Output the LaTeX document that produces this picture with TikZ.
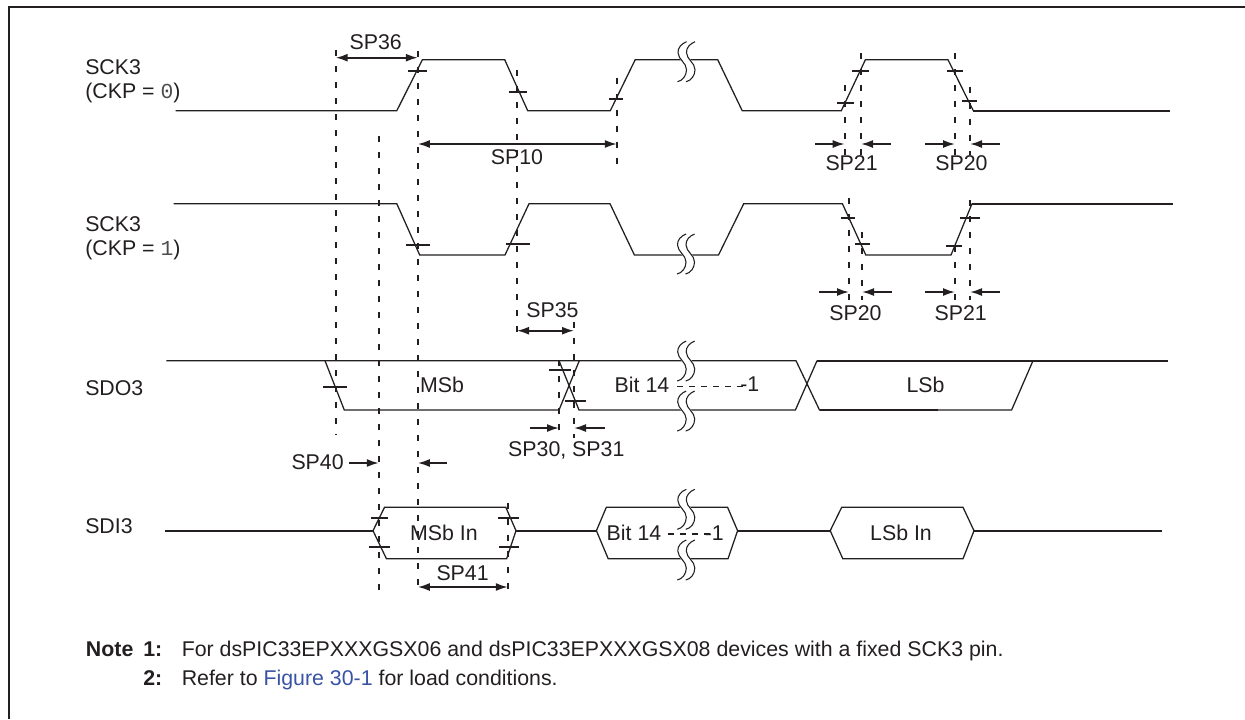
\documentclass[tikz,border=0pt]{standalone}
\usepackage{fontspec}
\setmainfont{Liberation Sans}
\setmonofont{Liberation Mono}
\usepackage{xcolor}
\usepackage{tikz}
\usetikzlibrary{arrows.meta}

\definecolor{inkdark}{HTML}{231F20}
\definecolor{linkblue}{HTML}{3953A4}
\newcommand{\breakcurve}{(0,0) .. controls (-5,2) and (-8.8,6) .. (-8.5,11) .. controls (-8.2,18) and (0,21) .. (0,28) .. controls (0,34) and (-4,39) .. (-9,40)}

\begin{document}
\begin{tikzpicture}[
  x=0.75pt, y=-0.75pt,
  font=\fontsize{16}{18.2}\selectfont,
  color=inkdark,
  sig/.style={line width=0.95pt, line join=miter},
  sigbold/.style={line width=1.5pt},
  guide/.style={line width=1.45pt, dash pattern=on 4.5pt off 7.5pt},
  hatch/.style={line width=0.8pt, dash pattern=on 4.5pt off 4.5pt},
  levelmark/.style={line width=1.25pt},
  span/.style={line width=1.3pt, {Latex[length=9pt,width=6pt]}-{Latex[length=9pt,width=6pt]}},
  pointer/.style={line width=1.3pt, -{Latex[length=9pt,width=6pt]}},
  lbl/.style={inner sep=0pt, anchor=center},
  signame/.style={inner sep=0pt, anchor=west, align=left},
  notetext/.style={inner sep=0pt, anchor=base west},
  breakmark/.pic={
    \draw[white, line width=6.2pt, shift={(4.25,0)}] \breakcurve;
    \foreach \d in {0,8.5}
      \draw[line width=0.8pt, shift={(\d,0)}] \breakcurve;
  },
]
  \useasboundingbox (0,0) rectangle (1245,719);
  \draw[line width=1.5pt] (9.3,719) -- (9.3,6.8) -- (1245,6.8);

  % waveforms
  \draw[sig] (175.6,110.7) -- (396.8,110.7) -- (422.4,59.7) -- (504.7,59.7) -- (527.7,110.7)
    -- (610.3,110.7) -- (635.2,59.7) -- (717.7,59.7) -- (742.2,110.7) -- (841.3,110.7)
    -- (865.4,59.7) -- (948,59.7) -- (973.3,110.7);
  \draw[sigbold] (973.3,110.7) -- (1170,110.7);

  \draw[sig] (173.7,203.7) -- (396.8,203.7) -- (419.7,255) -- (505,255) -- (529,203.7)
    -- (610,203.7) -- (634.4,255) -- (718.5,255) -- (743.7,203.7) -- (842.4,203.7)
    -- (865.8,255) -- (951,255) -- (972,203.7);
  \draw[sigbold] (972,203.7) -- (1173,203.7);

  \draw[sig] (166.4,360.7) -- (796,360.7) -- (819.5,410) -- (1011.6,410) -- (1033,360.7);
  \draw[sig] (325,360.7) -- (344.3,410) -- (559,410) -- (579.3,360.7);
  \draw[sig] (559,360.7) -- (579,410) -- (795.4,410) -- (817,360.7);
  \draw[sigbold] (817,360.7) -- (1168,360.7);
  \draw[sigbold] (819.5,410) -- (938,410);

  \draw[sigbold] (165,530.7) -- (373,530.7);
  \draw[sigbold] (516,530.7) -- (596.4,530.7);
  \draw[sigbold] (737.6,530.7) -- (830.2,530.7);
  \draw[sigbold] (974,530.7) -- (1162,530.7);
  \foreach \xa/\xb/\xc/\xd/\xe/\xf in {373/384.5/386.4/505.8/506.6/516,
      596.4/606.3/608.2/727.6/728/737.6, 830.2/841.7/842.8/963/963/974}
    \draw[sig] (\xa,530.7) -- (\xb,507.3) -- (\xd,507.3) -- (\xf,530.7) -- (\xe,558.7) -- (\xc,558.7) -- cycle;

  % breaks in the time axis
  \foreach \xb/\yb in {686.5/41.7, 686/234, 686.2/341, 686.2/391, 686.3/489.3, 686.3/540}
    \pic at (\xb,\yb) {breakmark};
  \draw[hatch] (677,386.7) -- (747,386.7);
  \draw[hatch] (668,534) -- (711,534);

  % timing guides
  \foreach \xg/\ya/\yb in {335.7/50/435, 378.8/136/595, 417.8/51/595, 517/70/341, 616.8/77.7/170,
      574/321.7/438, 559/360/438, 507.8/502.7/595, 844.7/85/155, 860.8/53/155, 955/53/155,
      970/86.7/155, 849/198/300, 862/231.7/300, 955/246/300, 970/200/300}
    \draw[guide] (\xg,\ya) -- (\xg,\yb);

  % level marks
  \foreach \xa/\xb/\yy in {408/426.7/70.8, 508.5/527/91.7, 609/623/99, 852.4/868.5/70.7, 837/853.5/103,
      947/963/70.7, 962/977/100.7, 406/430/245, 506/529.6/244, 841/855/218, 855/869.6/244,
      960/980/218, 946/962/246, 323.3/346.6/386.7, 549/571/369.7, 565/586/400.7,
      371/388/517.7, 369/390/546.7, 498/519/517.7, 499/519/546.7}
    \draw[levelmark] (\xa,\yy) -- (\xb,\yy);

  % spans
  \foreach \xa/\xb/\yy in {335.7/417.8/57.7, 417.8/616.8/144, 517/574/330.7, 417.8/507.8/587}
    \draw[span] (\xa,\yy) -- (\xb,\yy);
  \foreach \xa/\xb/\xc/\xd/\yy in {815/844.7/861/891/144, 925/955/970/1000/144, 819/849/862/892/292,
      925/955/970/1000/292, 530/559/574/605/428, 349/378.8/417.8/447/463}
    {\draw[pointer] (\xa,\yy) -- (\xb,\yy);
     \draw[pointer] (\xd,\yy) -- (\xc,\yy);}

  % timing parameters
  \node[lbl] (sp36) at (375.7,41.7) {SP36};
  \node[lbl] (sp10) at (517,156.7) {SP10};
  \node[lbl] (sp35) at (552.5,310) {SP35};
  \node[lbl] (sp21a) at (851.6,163.3) {SP21};
  \node[lbl] (sp20a) at (961.5,163.3) {SP20};
  \node[lbl] (sp20b) at (855.5,313.3) {SP20};
  \node[lbl] (sp21b) at (960.7,313.3) {SP21};
  \node[lbl] (sp30) at (566.3,450) {SP30, SP31};
  \node[lbl] (sp40) at (317.6,461.7) {SP40};
  \node[lbl] (sp41) at (462.6,573) {SP41};

  % signal names
  \node[signame] (sck0) at (85,81) {SCK3\\(CKP = \texttt{\color{black!70}0})};
  \node[signame] (sck1) at (85,238) {SCK3\\(CKP = \texttt{\color{black!70}1})};
  \node[signame] (sdo) at (85,388) {SDO3};
  \node[signame] (sdi) at (85,526) {SDI3};

  % bus contents
  \node[lbl] (msb) at (442,384.5) {MSb};
  \node[lbl] (bit14o) at (642,384.5) {Bit 14};
  \node[lbl, anchor=east] (oneo) at (759.5,384.5) {-1};
  \node[lbl] (lsb) at (925.5,384.5) {LSb};
  \node[lbl] (msbin) at (444,533) {MSb In};
  \node[lbl] (bit14i) at (634,533) {Bit 14};
  \node[lbl, anchor=east] (onei) at (724,533) {-1};
  \node[lbl] (lsbin) at (901,533) {LSb In};

  % notes
  \node[notetext] (note) at (85.7,656.7) {\textbf{Note}};
  \node[notetext] (note1) at (143,656.7) {\textbf{1:}};
  \node[notetext] (text1) at (181.5,656.7) {For dsPIC33EPXXXGSX06 and dsPIC33EPXXXGSX08 devices with a fixed SCK3 pin.};
  \node[notetext] (note2) at (143,685.7) {\textbf{2:}};
  \node[notetext] (text2) at (181.5,685.7) {Refer to \textcolor{linkblue}{Figure 30-1} for load conditions.};
\end{tikzpicture}
\end{document}
